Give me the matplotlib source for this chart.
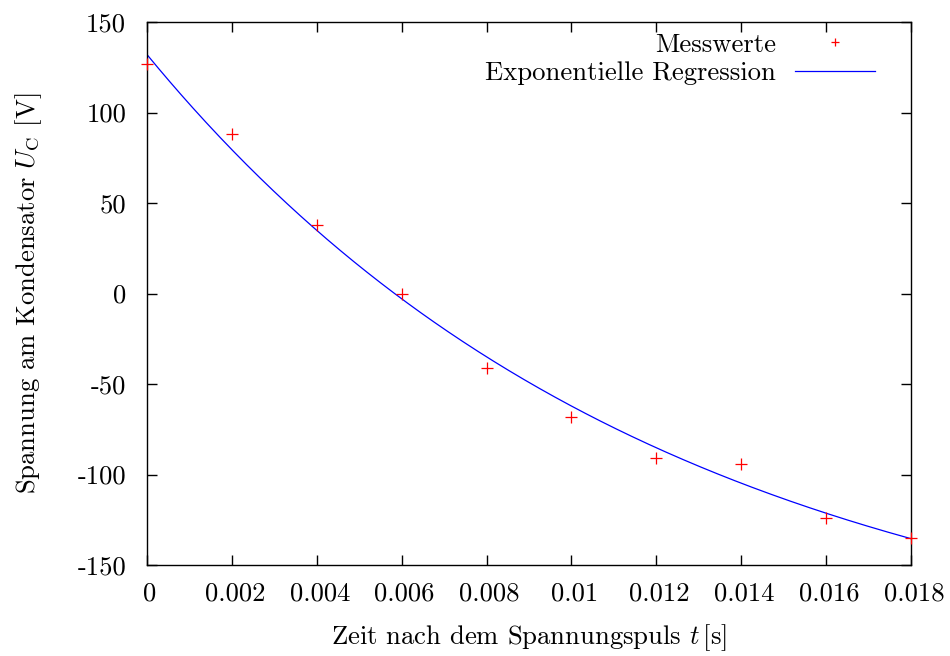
import numpy as np
import matplotlib
matplotlib.use("Agg")
import matplotlib.pyplot as plt
from matplotlib.transforms import ScaledTranslation

# ---- data ----
t_meas = [0.0, 0.002, 0.004, 0.006, 0.008, 0.010, 0.012, 0.014, 0.016, 0.018]
u_meas = [127, 88, 38, 0, -41, -68, -91, -94, -124, -135]

# exponential regression parameters: U(t) = fit_a * exp(-t / fit_tau) + fit_c
fit_a = 346.0
fit_tau = 0.01214
fit_c = -214.0

x_ticks = [0, 0.002, 0.004, 0.006, 0.008, 0.01, 0.012, 0.014, 0.016, 0.018]
x_tick_labels = ["0", "0.002", "0.004", "0.006", "0.008", "0.01", "0.012", "0.014", "0.016", "0.018"]
y_ticks = [-150, -100, -50, 0, 50, 100, 150]
y_tick_labels = ["-150", "-100", "-50", "0", "50", "100", "150"]

plt.rcParams["font.family"] = ["cmr10", "DejaVu Serif"]
plt.rcParams["mathtext.fontset"] = "cm"
plt.rcParams["axes.formatter.use_mathtext"] = True
plt.rcParams["axes.unicode_minus"] = False

FS = 19.2

fig = plt.figure(figsize=(9.5, 6.56), dpi=100)
ax = fig.add_axes([147/950, 91/656, 764/950, 543/656])

t_fit = np.linspace(0, 0.018, 400)
u_fit = fit_a * np.exp(-t_fit / fit_tau) + fit_c

ax.plot(t_meas, u_meas, linestyle="none", marker="+", color="#ff0000",
        markersize=8, markeredgewidth=0.9, label="Messwerte", clip_on=False, zorder=3)
ax.plot(t_fit, u_fit, color="#0000ff", linewidth=0.9, label="Exponentielle Regression", zorder=2)

ax.set_xlim(0, 0.018)
ax.set_ylim(-150, 150)
ax.set_xticks(x_ticks)
ax.set_xticklabels(x_tick_labels)
ax.set_yticks(y_ticks)
ax.set_yticklabels(y_tick_labels)
ax.tick_params(direction="in", length=7.5, width=1.0, top=True, right=True,
               labelsize=FS, pad=12)
ax.tick_params(axis="y", pad=15)
off = ScaledTranslation(3/100, 0, fig.dpi_scale_trans)
for lab in ax.get_xticklabels():
    lab.set_transform(lab.get_transform() + off)
for s in ax.spines.values():
    s.set_linewidth(1.0)

ax.set_xlabel(r"Zeit nach dem Spannungspuls $t\,$[s]", fontsize=FS, labelpad=12)
ax.set_ylabel(r"Spannung am Kondensator $U_\mathrm{C}$ [V]", fontsize=FS, labelpad=24)

ax.legend(loc="upper right", bbox_to_anchor=((875-147)/764, (565-33)/543),
          frameon=False, markerfirst=False, fontsize=FS, handlelength=3.0,
          handletextpad=0.7, borderpad=0, borderaxespad=0, labelspacing=0.18,
          markerscale=0.7)

fig.savefig("out.png", dpi=100)
